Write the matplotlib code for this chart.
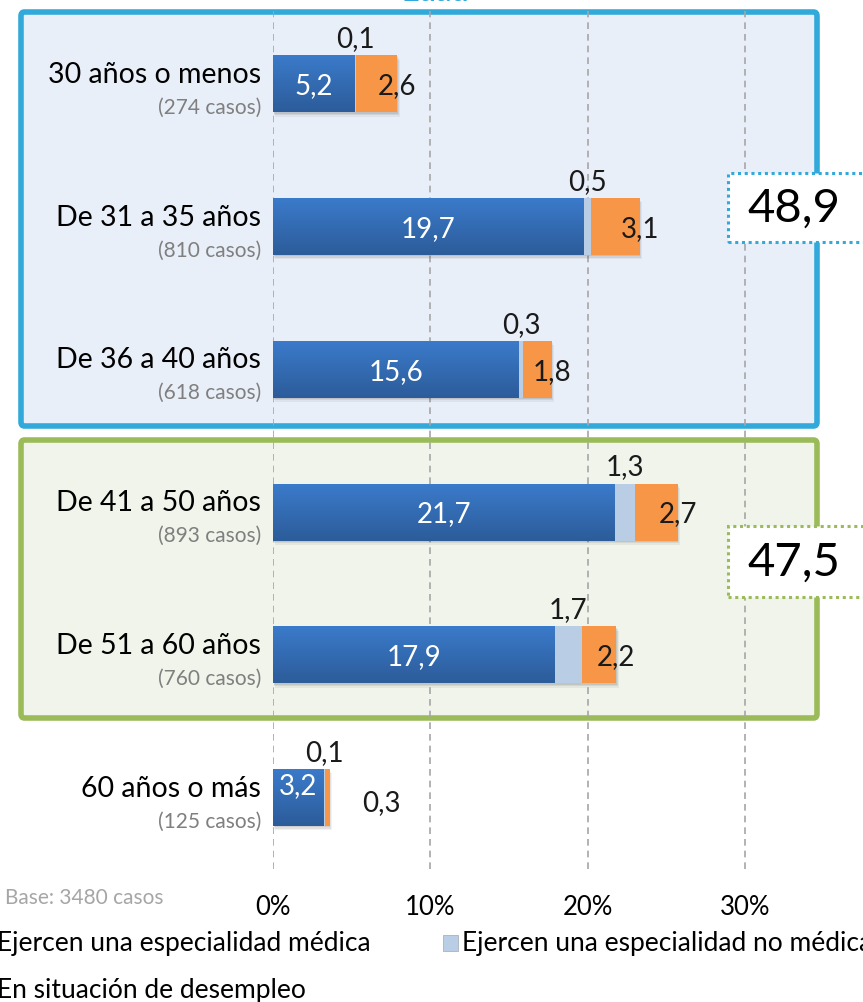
import matplotlib
matplotlib.use("Agg")
import matplotlib.pyplot as plt
import matplotlib.transforms as mtransforms
from matplotlib.patches import Rectangle, FancyBboxPatch
from matplotlib.colors import LinearSegmentedColormap
import numpy as np

plt.rcParams['font.family'] = ['Lato', 'DejaVu Sans']

# ---- data ----
categories = ["30 años o menos", "De 31 a 35 años", "De 36 a 40 años",
              "De 41 a 50 años", "De 51 a 60 años", "60 años o más"]
cases = ["(274 casos)", "(810 casos)", "(618 casos)", "(893 casos)",
         "(760 casos)", "(125 casos)"]
medica = [5.2, 19.7, 15.6, 21.7, 17.9, 3.2]
no_medica = [0.1, 0.5, 0.3, 1.3, 1.7, 0.1]
desempleo = [2.6, 3.1, 1.8, 2.7, 2.2, 0.3]
series_names = ["Ejercen una especialidad médica",
                "Ejercen una especialidad no médica",
                "En situación de desempleo"]
group_totals = ["48,9", "47,5"]
xticks = [0, 10, 20, 30]
xticklabels = ["0%", "10%", "20%", "30%"]
base_text = "Base: 3480 casos"
title_text = "Edad"

def fmt(v):
    return f"{v:.1f}".replace(".", ",")

W, H = 863, 1003
fig = plt.figure(figsize=(W / 100, H / 100), dpi=100)
fig.patch.set_facecolor("white")

ax_left, ax_right = 273, 824
ax_top, ax_bot = 12, 870
ax = fig.add_axes([ax_left / W, 1 - ax_bot / H, (ax_right - ax_left) / W, (ax_bot - ax_top) / H])
ax.set_facecolor("none")
for s in ax.spines.values():
    s.set_visible(False)
ax.tick_params(left=False, bottom=False, labelleft=False, labelbottom=False)

y = np.arange(len(categories))
c_med, c_no, c_des = "#3570BD", "#B9CDE5", "#F79646"
bh = 0.40
val_fs = 20

# gridlines
for xt in xticks:
    ax.axvline(xt, color="#A6A6A6", lw=1.2, ls=(0, (4, 3)), zorder=1)

tot = np.array(medica) + np.array(no_medica) + np.array(desempleo)
left2 = np.array(medica) + np.array(no_medica)

# soft shadows
for yi, t in zip(y, tot):
    for k, a in [(0.25, 0.05), (0.15, 0.07), (0.07, 0.08)]:
        ax.add_patch(Rectangle((k * 0.6, yi - bh / 2 + k * 0.12), t, bh, color="#000000", alpha=a, lw=0, zorder=2))

# blue bars with gradient
grad = np.linspace(0, 1, 100).reshape(-1, 1)
cmap = LinearSegmentedColormap.from_list("bl", ["#3B7BCB", "#2C5C9A"])
bars = ax.barh(y, medica, height=bh, color=c_med, zorder=3, lw=0)
for b in bars:
    x0, y0 = b.get_x(), b.get_y()
    w, h = b.get_width(), b.get_height()
    im = ax.imshow(grad, extent=[x0, x0 + w, y0 + h, y0], cmap=cmap, aspect="auto", zorder=3.5)
    im.set_clip_path(b)
ax.barh(y, no_medica, left=medica, height=bh, color=c_no, zorder=3, lw=0)
ax.barh(y, desempleo, left=left2, height=bh, color=c_des, zorder=3, lw=0)
ax.set_xlim(0, 35)
ax.set_ylim(5.50, -0.51)

# value labels
for i in range(len(categories)):
    if i == 5:
        ax.text(medica[i] / 2, y[i] - 0.09, fmt(medica[i]), color="white", ha="center", va="center", fontsize=val_fs, zorder=5)
        ax.text(tot[i] + 3.3, y[i] + 0.03, fmt(desempleo[i]), color="#1a1a1a", ha="center", va="center", fontsize=val_fs, zorder=5)
    else:
        ax.text(medica[i] / 2, y[i] + 0.01, fmt(medica[i]), color="white", ha="center", va="center", fontsize=val_fs, zorder=5)
        ax.text(tot[i], y[i] + 0.01, fmt(desempleo[i]), color="#1a1a1a", ha="center", va="center", fontsize=val_fs, zorder=5)
    ax.text(medica[i] + no_medica[i] / 2, y[i] - 0.32, fmt(no_medica[i]), color="#1a1a1a", ha="center", va="center", fontsize=val_fs, zorder=5)

# category labels
trans_lab = mtransforms.blended_transform_factory(fig.transFigure, ax.transData)
for i, (c, n) in enumerate(zip(categories, cases)):
    fig.text(261 / W, y[i] - 0.07, c, transform=trans_lab, ha="right", va="center", fontsize=20.5, color="black")
    fig.text(261 / W, y[i] + 0.16, n, transform=trans_lab, ha="right", va="center", fontsize=15, color="#7F7F7F")

# tick labels
trans_tick = mtransforms.blended_transform_factory(ax.transData, fig.transFigure)
for xt, xl in zip(xticks, xticklabels):
    fig.text(xt, 1 - 908 / H, xl, transform=trans_tick, ha="center", va="center", fontsize=18.5)
fig.text(5 / W, 1 - 898 / H, base_text, ha="left", va="center", fontsize=15, color="#A6A6A6")

# title (cut off at top)
fig.text(435 / W, 1 + 8 / H, title_text, ha="center", va="center", fontsize=22, color="#31A9DA", fontweight="bold")

# group boxes
def fbox(x0, y0, x1, y1, ec, fc, z):
    p = FancyBboxPatch((x0 / W, 1 - y1 / H), (x1 - x0) / W, (y1 - y0) / H,
                       boxstyle="round,pad=0,rounding_size=0.004", transform=fig.transFigure,
                       ec=ec, fc=fc, lw=4, zorder=z)
    fig.add_artist(p)
    return p

fbox(21, 13, 817, 427, "#31A9DA", "#E9EFF8", -2)
fbox(21, 441, 817, 719, "#9BBB59", "#F0F4EA", -2)

# total boxes
for (yt, yb), txt, ec in zip([(174, 243), (527, 598)], group_totals, ["#31A9DA", "#9BBB59"]):
    r = Rectangle((728 / W, 1 - yb / H), 160 / W, (yb - yt) / H, transform=fig.transFigure,
                  ec=ec, fc="white", lw=2.2, ls=(0, (1, 1.2)), zorder=5)
    fig.add_artist(r)
    fig.text(794 / W, 1 - (yt + yb) / 2 / H, txt, ha="center", va="center", fontsize=34, color="black", zorder=6)

# legend
leg_y1 = 1 - 944 / H
leg_y2 = 1 - 991 / H
items = [(-22, leg_y1, c_med, series_names[0]), (443, leg_y1, c_no, series_names[1]), (-22, leg_y2, c_des, series_names[2])]
for xp, yp, col, name in items:
    fig.add_artist(Rectangle((xp / W, yp - 8 / H), 15 / W, 16 / H, transform=fig.transFigure, fc=col, ec="#9FA8B5", lw=0.5))
    fig.text((xp + 19) / W, yp, name, ha="left", va="center", fontsize=19, color="black")

fig.savefig("out.png", dpi=100)
